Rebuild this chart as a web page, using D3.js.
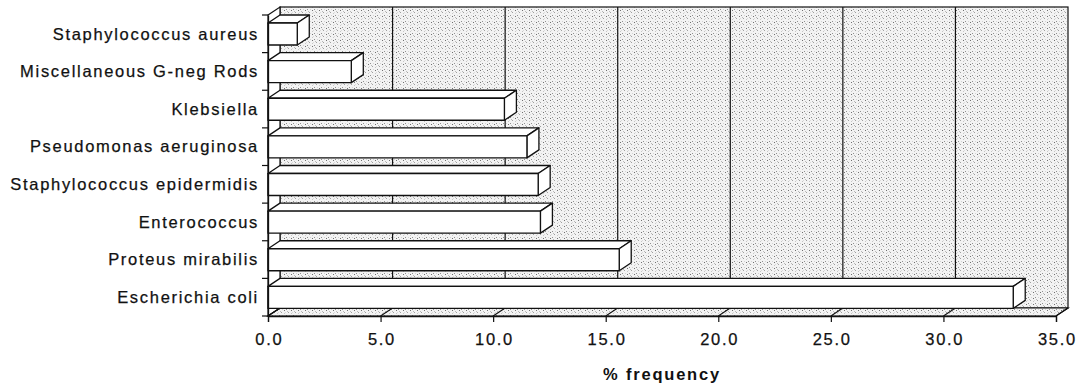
<!DOCTYPE html>
<html>
<head>
<meta charset="utf-8">
<script src="https://cdn.jsdelivr.net/npm/d3@7"></script>
<style>
  body { margin: 0; background: #fff; }
  text { font-family: "Liberation Sans", Arial, sans-serif; fill: #111; }
  .lbl { font-size: 16.5px; letter-spacing: 1.7px; stroke: #111; stroke-width: 0.25px; }
  .title { font-size: 16.5px; font-weight: bold; letter-spacing: 1.8px; }
</style>
</head>
<body>
<div id="chart"></div>
<script>
const categories = ["Staphylococcus aureus", "Miscellaneous G-neg Rods", "Klebsiella",
  "Pseudomonas aeruginosa", "Staphylococcus epidermidis", "Enterococcus",
  "Proteus mirabilis", "Escherichia coli"];
const values = [1.3, 3.7, 10.5, 11.5, 12.0, 12.1, 15.6, 33.1];
const xTicks = [0, 5, 10, 15, 20, 25, 30, 35];
const xTitle = "% frequency";

const W = 1088, H = 390;
const plot = { left: 268, right: 1056, top: 15, bottom: 316 };
const dx = 12, dy = -8;   // depth offset of the 3D box

const svg = d3.select("#chart").append("svg")
    .attr("width", W).attr("height", H);

// stipple texture
const defs = svg.append("defs");
const pat = defs.append("pattern")
    .attr("id", "stipple").attr("patternUnits", "userSpaceOnUse")
    .attr("width", 7).attr("height", 6);
pat.append("rect").attr("width", 7).attr("height", 6).attr("fill", "#f3f3f3");
[[1, 0, "#a0a0a0"], [4, 1, "#c8c8c8"], [6, 3, "#909090"], [2, 3, "#d4d4d4"],
 [0, 5, "#bababa"], [4, 4, "#707070"], [5, 0, "#dadada"]].forEach(([px, py, c]) => {
  pat.append("rect").attr("x", px).attr("y", py).attr("width", 1).attr("height", 1).attr("fill", c);
});

const x = d3.scaleLinear().domain([0, 35]).range([plot.left, plot.right]);
const y = d3.scaleBand().domain(categories).range([plot.top, plot.bottom]);
const faceH = y.bandwidth() * 0.585;

// back wall
svg.append("rect")
   .attr("x", plot.left + dx).attr("y", plot.top + dy)
   .attr("width", plot.right - plot.left).attr("height", plot.bottom - plot.top)
   .attr("fill", "url(#stipple)")
   .attr("stroke", "#111").attr("stroke-width", 1.2);

// grid lines on the back wall
svg.append("g").selectAll("line")
   .data(xTicks.slice(1, -1))
   .enter().append("line")
   .attr("x1", d => x(d) + dx).attr("x2", d => x(d) + dx)
   .attr("y1", plot.top + dy).attr("y2", plot.bottom + dy)
   .attr("stroke", "#111").attr("stroke-width", 1.2);

// left wall
svg.append("polygon")
   .attr("points", [[plot.left, plot.top], [plot.left + dx, plot.top + dy],
                    [plot.left + dx, plot.bottom + dy], [plot.left, plot.bottom]].join(" "))
   .attr("fill", "#fff").attr("stroke", "#111").attr("stroke-width", 1.2);

// floor
svg.append("polygon")
   .attr("points", [[plot.left, plot.bottom], [plot.right, plot.bottom],
                    [plot.right + dx, plot.bottom + dy], [plot.left + dx, plot.bottom + dy]].join(" "))
   .attr("fill", "url(#stipple)").attr("stroke", "#111").attr("stroke-width", 1.2);

svg.append("g").selectAll("line")
   .data(xTicks)
   .enter().append("line")
   .attr("x1", d => x(d)).attr("y1", plot.bottom)
   .attr("x2", d => x(d) + dx).attr("y2", plot.bottom + dy)
   .attr("stroke", "#111").attr("stroke-width", 1.1);

// bars as 3D boxes
const bars = svg.append("g").selectAll("g")
   .data(categories.map((c, i) => ({ c, v: values[i] })))
   .enter().append("g")
   .attr("fill", "#fff").attr("stroke", "#111")
   .attr("stroke-width", 1.3).attr("stroke-linejoin", "round");

bars.append("polygon")   // top face
    .attr("points", d => {
      const f = y(d.c) - dy, xv = x(d.v);
      return [[plot.left, f], [xv, f], [xv + dx, f + dy], [plot.left + dx, f + dy]].join(" ");
    });
bars.append("polygon")   // end face
    .attr("points", d => {
      const f = y(d.c) - dy, xv = x(d.v);
      return [[xv, f], [xv + dx, f + dy], [xv + dx, f + dy + faceH], [xv, f + faceH]].join(" ");
    });
bars.append("rect")      // front face
    .attr("x", plot.left).attr("y", d => y(d.c) - dy)
    .attr("width", d => x(d.v) - plot.left).attr("height", faceH);

// axes on the front plane
const xAxis = d3.axisBottom(x).tickValues(xTicks).tickFormat(d3.format(".1f"))
    .tickSize(6).tickPadding(11);
const gx = svg.append("g").attr("transform", `translate(0,${plot.bottom})`).call(xAxis);
gx.select(".domain").attr("stroke", "#111").attr("stroke-width", 1.3);
gx.selectAll(".tick line").attr("stroke", "#111").attr("stroke-width", 1.2);
gx.selectAll(".tick text").attr("class", "lbl").attr("fill", "#111").attr("dx", "0.05em");
gx.attr("font-family", null).attr("font-size", null);

const yAxis = d3.axisLeft(y).tickSize(0).tickPadding(9);
const gy = svg.append("g").attr("transform", `translate(${plot.left},0)`).call(yAxis);
gy.select(".domain").attr("stroke", "#111").attr("stroke-width", 1.3);
gy.selectAll(".tick text").attr("class", "lbl").attr("fill", "#111").attr("dy", "0.35em");
gy.attr("font-family", null).attr("font-size", null);

// category ticks at band boundaries
svg.append("g").selectAll("line")
   .data(categories.map(c => y(c)).concat([plot.bottom]))
   .enter().append("line")
   .attr("x1", plot.left - 6).attr("x2", plot.left)
   .attr("y1", d => d).attr("y2", d => d)
   .attr("stroke", "#111").attr("stroke-width", 1.2);

svg.append("text")
   .attr("class", "title")
   .attr("x", (plot.left + plot.right) / 2).attr("y", 380)
   .attr("text-anchor", "middle")
   .text(xTitle);
</script>
</body>
</html>
